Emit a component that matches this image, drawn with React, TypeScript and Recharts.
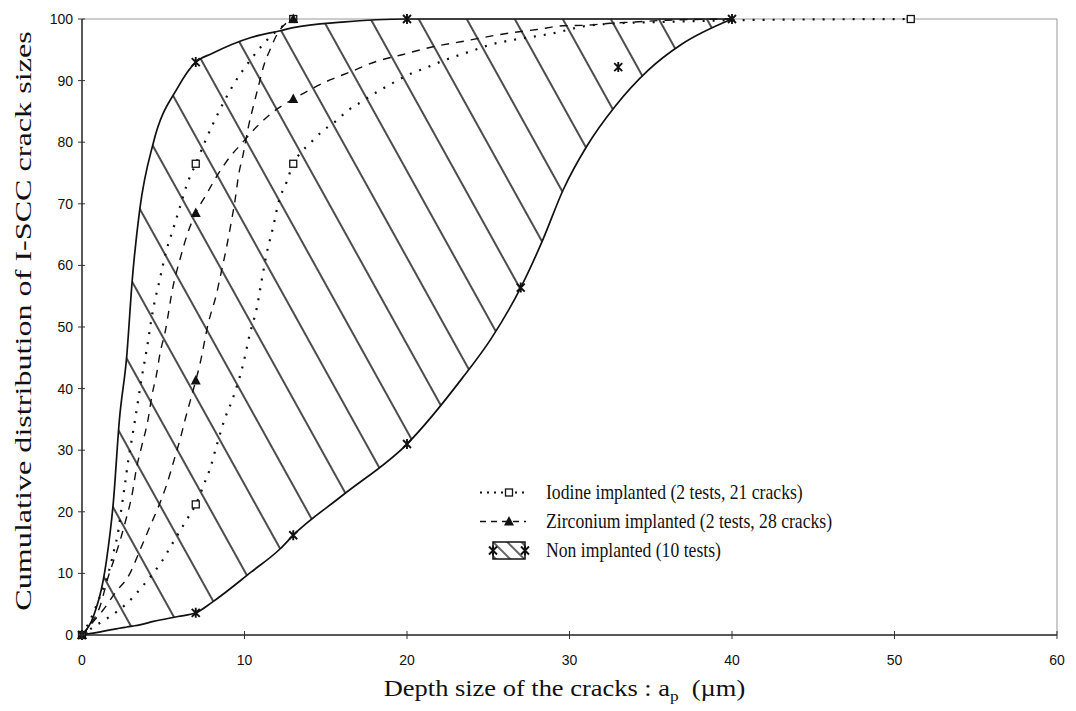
import {
  Area,
  ComposedChart,
  Legend,
  Line,
  ReferenceLine,
  Scatter,
  XAxis,
  YAxis
} from 'recharts'

const X_TICKS = [0, 10, 20, 30, 40, 50, 60]
const Y_TICKS = [0, 10, 20, 30, 40, 50, 60, 70, 80, 90, 100]

// non implanted band (10 tests), both edges read at the same depths
const ENVELOPE_DEPTH = [
  0, 0.7, 1.5, 1.93, 2.3, 2.75, 3.1, 3.55, 4.4, 5.9, 7, 8, 10.4, 12.2, 13, 16, 20,
  23.4, 25.2, 27, 28.35, 29.6, 31.1, 32.8, 34.85, 36.9, 40
]
const ENVELOPE_UPPER = [
  0, 3, 12, 21.6, 34.9, 45.2, 57.9, 69, 80, 88.9, 93, 94.4, 97, 98.1, 98.6, 99.5, 100,
  100, 100, 100, 100, 100, 100, 100, 100, 100, 100
]
const ENVELOPE_LOWER = [
  0, 0.3, 0.7, 0.9, 1.1, 1.3, 1.45, 1.65, 2.2, 3, 3.6, 5.3, 10.2, 14, 16.2, 22.6, 31,
  41.7, 48.2, 56.4, 64.1, 72.2, 79.5, 85.8, 91.7, 95.9, 100
]

const IODINE_TEST_1: [number, number][] = [
  [0, 0], [0.5, 2.4], [1.1, 6.2], [1.62, 10], [1.93, 13.3], [2.24, 17], [2.44, 20.8],
  [2.65, 24.6], [2.85, 28.4], [3.06, 31.7], [3.3, 35.5], [3.67, 41.7], [3.98, 46.3],
  [4.35, 52.5], [4.76, 57.4], [5.17, 62.2], [5.62, 66], [6.03, 69.5], [6.44, 73],
  [7, 76.5], [7.57, 80.1], [8.49, 85.3], [9.31, 89.3], [10.44, 93.6], [11.57, 97.1],
  [13, 100]
]
const IODINE_TEST_2: [number, number][] = [
  [0, 0], [0.7, 1.3], [1.72, 3], [2.75, 5.1], [3.88, 8.4], [4.9, 11.9], [5.62, 15.1],
  [6.44, 18.7], [7, 21.2], [7.57, 24.9], [7.88, 27], [8.29, 30.8], [8.8, 35.2],
  [9.21, 37.9], [9.93, 44.1], [10.34, 49], [10.75, 53], [11.06, 57.6], [11.37, 62],
  [11.77, 66.3], [12.08, 70.1], [12.6, 73.6], [13, 76.5], [13.42, 78.2], [14.03, 79.8],
  [14.75, 81.7], [15.57, 83.3], [16.39, 85.2], [17.1, 86.4], [18.44, 88.6],
  [19.26, 89.8], [20.3, 91.2], [21.1, 92], [22.1, 93.1], [22.95, 93.9], [24.08, 94.9],
  [25.1, 95.8], [26.75, 96.7], [28.4, 97.4], [29.2, 97.8], [30.85, 98.8], [32.3, 99.2],
  [36.8, 99.6], [40, 99.8], [51, 100]
]
const ZIRCONIUM_TEST_1: [number, number][] = [
  [0, 0], [0.49, 1.6], [1.1, 4.6], [1.62, 9.5], [2.03, 12.7], [2.44, 16.2], [2.75, 19.2],
  [3.06, 22.5], [3.37, 27.3], [3.67, 30.6], [4.08, 35.2], [4.29, 38.7], [4.6, 42.5],
  [4.8, 45.7], [5.1, 49], [5.62, 56.8], [6.03, 61], [6.5, 65.2], [7, 68.5],
  [7.67, 71.6], [8.39, 74.9], [9.1, 77.6], [9.83, 79.8], [10.75, 82.5], [11.8, 85],
  [13, 87], [15.26, 90.1], [16.5, 91.4], [18.1, 93.1], [19.7, 94.2], [21.6, 95.5],
  [23.3, 96.3], [24.9, 97.1], [26.5, 97.8], [28, 98.3], [29.6, 98.9], [31.1, 99],
  [32.5, 99.3], [33.9, 99.5], [36, 99.8], [40, 100]
]
const ZIRCONIUM_TEST_2: [number, number][] = [
  [0, 0], [0.7, 2.2], [1.31, 4.1], [2.03, 6.8], [2.95, 10], [3.57, 13.8], [4.18, 17.6],
  [4.7, 20.8], [5.21, 24.4], [5.72, 28.9], [6.03, 31.7], [6.34, 34.9], [7, 41.3],
  [7.26, 44], [7.77, 50.6], [8.29, 55.5], [8.6, 59.3], [8.9, 63], [9.21, 67.4],
  [9.42, 70.6], [9.62, 74.4], [9.93, 78.2], [10.24, 82.5], [10.54, 85.8], [10.85, 89],
  [11.16, 92.2], [11.57, 95], [11.98, 97.4], [13, 100]
]

// measured points (markers)
const IODINE_MARKS: [number, number][] = [
  [0, 0], [7, 21.2], [7, 76.5], [13, 76.5], [13, 100], [51, 100]
]
const ZIRCONIUM_MARKS: [number, number][] = [
  [0, 0], [7, 41.3], [7, 68.5], [13, 87], [13, 100]
]
const NON_IMPLANTED_MARKS: [number, number][] = [
  [0, 0], [7, 3.6], [7, 93], [13, 16.2], [20, 31], [20, 100], [27, 56.4], [33, 92.2], [40, 100]
]

const LEGEND_LABELS = [
  'Iodine implanted (2 tests, 21 cracks)',
  'Zirconium implanted (2 tests, 28 cracks)',
  'Non implanted (10 tests)'
]

const SERIF = '"Liberation Serif", "Times New Roman", serif'
const SANS = '"Liberation Sans", Arial, sans-serif'
const INK = '#111'

const toPoints = (pairs: [number, number][]) => pairs.map(([x, y]) => ({ x, y }))

const bandData = ENVELOPE_DEPTH.map((x, i) => ({
  x,
  band: [ENVELOPE_LOWER[i], ENVELOPE_UPPER[i]]
}))
const upperData = ENVELOPE_DEPTH.map((x, i) => ({ x, y: ENVELOPE_UPPER[i] }))
const lowerData = ENVELOPE_DEPTH.map((x, i) => ({ x, y: ENVELOPE_LOWER[i] }))

function OpenSquare({ cx, cy }: any) {
  return (
    <rect x={cx - 3.5} y={cy - 3.5} width={7} height={7} fill="#fff" stroke={INK} strokeWidth={1.3} />
  )
}

function Triangle({ cx, cy }: any) {
  return <path d={`M${cx},${cy - 5.5}L${cx + 5},${cy + 4}L${cx - 5},${cy + 4}Z`} fill={INK} />
}

function Asterisk({ cx, cy }: any) {
  return (
    <path
      d={`M${cx - 4},${cy - 4}L${cx + 4},${cy + 4}M${cx + 4},${cy - 4}L${cx - 4},${cy + 4}M${cx},${cy - 5}L${cx},${cy + 5}`}
      stroke={INK}
      strokeWidth={1.9}
      fill="none"
    />
  )
}

function XTick({ x, y, payload }: any) {
  return (
    <g>
      <line x1={x} x2={x} y1={y - 4} y2={y + 4} stroke="#333" />
      <text x={x} y={y + 30} textAnchor="middle" fontFamily={SANS} fontSize={14} fill={INK}>
        {payload.value}
      </text>
    </g>
  )
}

function YTick({ x, y, payload }: any) {
  return (
    <g>
      <line x1={x - 4} x2={x + 3} y1={y} y2={y} stroke="#333" />
      <text x={x - 9} y={y} dy="0.36em" textAnchor="end" fontFamily={SANS} fontSize={14} fill={INK}>
        {payload.value}
      </text>
    </g>
  )
}

function XTitle({ viewBox }: any) {
  const cx = viewBox.x + viewBox.width / 2 - 5
  return (
    <text
      transform={`translate(${cx}, ${viewBox.y + 61}) scale(1.15, 1)`}
      textAnchor="middle"
      fontFamily={SERIF}
      fontSize={23}
      fill={INK}
    >
      Depth size of the cracks : a
      <tspan fontSize={15} dy={5}>p</tspan>
      <tspan dy={-5}>{'\u00a0\u00a0(\u00b5m)'}</tspan>
    </text>
  )
}

function YTitle({ viewBox }: any) {
  const cy = viewBox.y + viewBox.height / 2 - 6
  return (
    <text
      transform={`translate(31, ${cy}) rotate(-90) scale(1.34, 1)`}
      textAnchor="middle"
      fontFamily={SERIF}
      fontSize={24}
      fill={INK}
    >
      Cumulative distribution of I-SCC crack sizes
    </text>
  )
}

function LegendSymbol({ index }: { index: number }) {
  if (index === 0) {
    return (
      <svg width={66} height={29} style={{ flex: 'none' }}>
        <line x1={0} x2={48} y1={14.5} y2={14.5} stroke={INK} strokeWidth={2} strokeDasharray="2 5" />
        <OpenSquare cx={29} cy={14.5} />
      </svg>
    )
  }
  if (index === 1) {
    return (
      <svg width={66} height={29} style={{ flex: 'none' }}>
        <line x1={0} x2={46} y1={14.5} y2={14.5} stroke={INK} strokeWidth={1.4} strokeDasharray="6 5" />
        <Triangle cx={29} cy={14.5} />
      </svg>
    )
  }
  return (
    <svg width={66} height={29} style={{ flex: 'none' }}>
      <defs>
        <pattern id="legendHatch" patternUnits="userSpaceOnUse" width={10} height={10} patternTransform="rotate(-45)">
          <line x1={5} x2={5} y1={0} y2={10} stroke={INK} strokeWidth={1.3} />
        </pattern>
      </defs>
      <rect x={13} y={6} width={32} height={17} fill="url(#legendHatch)" stroke={INK} strokeWidth={1.5} />
      <Asterisk cx={13} cy={14.5} />
      <Asterisk cx={45} cy={14.5} />
    </svg>
  )
}

function LegendContent() {
  return (
    <div style={{ fontFamily: SERIF, fontSize: 21, color: INK }}>
      {LEGEND_LABELS.map((label, i) => (
        <div key={label} style={{ display: 'flex', alignItems: 'center', height: 29, whiteSpace: 'nowrap' }}>
          <LegendSymbol index={i} />
          <span style={{ display: 'inline-block', transform: 'scaleX(0.84)', transformOrigin: 'left center' }}>
            {label}
          </span>
        </div>
      ))}
    </div>
  )
}

export default function App() {
  return (
    <div style={{ position: 'absolute', left: 0, top: 0, background: '#fff' }}>
      <ComposedChart width={1076} height={711} margin={{ top: 19, right: 19, bottom: 0, left: 0 }}>
        <defs>
          <pattern id="hatch" patternUnits="userSpaceOnUse" width={42} height={42} patternTransform="rotate(-29)">
            <line x1={21} x2={21} y1={0} y2={42} stroke="#000" strokeWidth={1.4} />
          </pattern>
        </defs>
        <XAxis
          dataKey="x"
          type="number"
          domain={[0, 60]}
          ticks={X_TICKS}
          interval={0}
          height={76}
          tickSize={0}
          tickMargin={0}
          tickLine={false}
          tick={<XTick />}
          axisLine={{ stroke: '#222', strokeWidth: 1.5 }}
          label={{ content: <XTitle /> }}
        />
        <YAxis
          type="number"
          domain={[0, 100]}
          ticks={Y_TICKS}
          interval={0}
          width={82}
          tickSize={0}
          tickMargin={0}
          tickLine={false}
          tick={<YTick />}
          axisLine={{ stroke: '#222', strokeWidth: 1.5 }}
          label={{ content: <YTitle /> }}
        />
        <ReferenceLine y={100} stroke="#999" strokeWidth={1} />
        <ReferenceLine x={60} stroke="#999" strokeWidth={1} />
        <Area
          data={bandData}
          dataKey="band"
          type="monotone"
          fill="url(#hatch)"
          fillOpacity={1}
          stroke="none"
          legendType="none"
          isAnimationActive={false}
        />
        <Line data={upperData} dataKey="y" type="monotone" stroke={INK} strokeWidth={1.7} dot={false} legendType="none" isAnimationActive={false} />
        <Line data={lowerData} dataKey="y" type="monotone" stroke={INK} strokeWidth={1.7} dot={false} legendType="none" isAnimationActive={false} />
        <Line data={toPoints(IODINE_TEST_1)} dataKey="y" type="monotone" stroke={INK} strokeWidth={2.2} strokeDasharray="2 8" dot={false} legendType="none" isAnimationActive={false} />
        <Line data={toPoints(IODINE_TEST_2)} dataKey="y" type="monotone" stroke={INK} strokeWidth={2.2} strokeDasharray="2 8" dot={false} legendType="none" isAnimationActive={false} />
        <Line data={toPoints(ZIRCONIUM_TEST_1)} dataKey="y" type="monotone" stroke={INK} strokeWidth={1.4} strokeDasharray="8 7" dot={false} legendType="none" isAnimationActive={false} />
        <Line data={toPoints(ZIRCONIUM_TEST_2)} dataKey="y" type="monotone" stroke={INK} strokeWidth={1.4} strokeDasharray="8 7" dot={false} legendType="none" isAnimationActive={false} />
        <Scatter data={toPoints(IODINE_MARKS)} dataKey="y" shape={OpenSquare} legendType="none" isAnimationActive={false} />
        <Scatter data={toPoints(ZIRCONIUM_MARKS)} dataKey="y" shape={Triangle} legendType="none" isAnimationActive={false} />
        <Scatter data={toPoints(NON_IMPLANTED_MARKS)} dataKey="y" shape={Asterisk} legendType="none" isAnimationActive={false} />
        <Legend
          layout="vertical"
          align="center"
          verticalAlign="middle"
          content={<LegendContent />}
          wrapperStyle={{ left: 480, top: 478, width: 480, height: 90 }}
        />
      </ComposedChart>
    </div>
  )
}
